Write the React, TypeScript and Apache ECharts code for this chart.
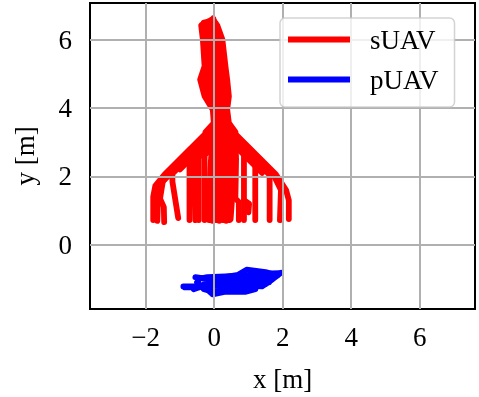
import React, { useEffect, useRef } from "react";
import * as echarts from "echarts";

// ---- axis setup ----
const xRange = [-3.626, 7.617];
const yRange = [-1.88, 7.07];
const xTicks = [-2, 0, 2, 4, 6];
const yTicks = [0, 2, 4, 6];

// ---- sUAV trajectories (x, y in m) ----
// vertical column (hover phase)
const sColumn1 = [[-0.25, 3.3], [-0.01, 3.56], [-0.04, 3.95], [-0.28, 4.34], [-0.41, 4.83], [-0.28, 5.22], [-0.33, 6.0], [-0.38, 6.42], [-0.3, 6.48]];
const sColumn2 = [[-0.1, 3.3], [0.06, 3.56], [0.03, 3.95], [-0.16, 4.34], [-0.28, 4.83], [-0.18, 5.22], [-0.24, 6.0], [-0.3, 6.5], [-0.2, 6.52]];
const sColumn3 = [[0.04, 3.3], [0.14, 3.56], [0.1, 3.95], [-0.04, 4.34], [-0.15, 4.83], [-0.08, 5.22], [-0.14, 6.0], [-0.18, 6.52], [-0.08, 6.58]];
const sColumn4 = [[0.19, 3.3], [0.21, 3.56], [0.17, 3.95], [0.08, 4.34], [-0.02, 4.83], [0.03, 5.22], [-0.05, 6.0], [-0.08, 6.55], [-0.03, 6.62]];
const sColumn5 = [[0.33, 3.3], [0.28, 3.56], [0.24, 3.95], [0.19, 4.34], [0.12, 4.83], [0.13, 5.22], [0.05, 6.0], [0.0, 6.55]];
const sColumn6 = [[0.48, 3.3], [0.36, 3.56], [0.31, 3.95], [0.31, 4.34], [0.25, 4.83], [0.23, 5.22], [0.14, 6.0], [0.05, 6.48]];
const sColumn7 = [[0.62, 3.3], [0.43, 3.56], [0.38, 3.95], [0.43, 4.34], [0.38, 4.83], [0.33, 5.22], [0.24, 6.0], [0.09, 6.42]];

// left fan
const sLeft1 = [[0.1, 3.6], [-1.45, 2.05], [-1.72, 1.72], [-1.78, 1.4], [-1.78, 0.72]];
const sLeft2 = [[0.1, 3.5], [-1.4, 2.0], [-1.6, 1.7], [-1.64, 1.35], [-1.66, 0.7]];
const sLeft3 = [[0.1, 3.45], [-1.5, 1.85], [-1.58, 1.35], [-1.47, 1.1], [-1.46, 0.66]];
const sLeft4 = [[0.1, 3.4], [-1.22, 2.08], [-1.22, 1.85], [-1.05, 0.78]];
const sLeft5 = [[0.1, 3.3], [-1.0, 2.2]];
const sLeft6 = [[0.1, 3.2], [-0.72, 2.38], [-0.72, 0.72]];
const sLeft7 = [[0.1, 3.15], [-0.6, 2.45], [-0.55, 0.72]];
const sLeft8 = [[0.1, 3.1], [-0.45, 2.55], [-0.45, 0.72]];
const sLeft9 = [[0.1, 3.0], [-0.28, 2.62], [-0.28, 0.72]];

// centre block
const sMid1 = [[-0.15, 0.72], [-0.14, 1.6], [-0.1, 2.4], [-0.05, 3.0], [0.0, 3.4]];
const sMid2 = [[-0.05, 0.7], [-0.04, 1.8], [0.0, 2.6], [0.05, 3.4]];
const sMid3 = [[0.05, 0.72], [0.07, 1.5], [0.06, 2.5], [0.1, 3.4]];
const sMid4 = [[0.15, 0.7], [0.16, 1.7], [0.18, 2.6], [0.2, 3.4]];
const sMid5 = [[0.25, 0.72], [0.26, 1.5], [0.27, 2.5], [0.28, 3.4]];
const sMid6 = [[0.35, 0.7], [0.36, 1.6], [0.37, 2.5], [0.36, 3.4]];
const sMid7 = [[0.45, 0.72], [0.44, 1.4], [0.47, 2.6], [0.45, 3.4]];
const sMid8 = [[0.52, 3.3], [0.55, 2.5], [0.52, 1.3], [0.48, 0.75]];
const sMid9 = [[0.62, 3.1], [0.64, 2.5], [0.62, 1.35], [0.72, 1.25], [0.72, 0.72]];

// right fan
const sRight1 = [[0.3, 3.56], [1.8, 2.06], [2.1, 1.6], [2.18, 1.3], [2.18, 0.75]];
const sRight2 = [[0.3, 3.46], [1.75, 2.01], [1.95, 1.6], [1.92, 0.72]];
const sRight3 = [[0.35, 3.31], [1.62, 2.04], [1.62, 0.72]];
const sRight4 = [[0.45, 3.3], [1.1, 2.65]];
const sRight5 = [[0.4, 3.2], [1.2, 2.4], [1.2, 0.72]];
const sRight6 = [[0.4, 3.16], [0.87, 2.69], [0.87, 0.72]];
const sRight7 = [[0.5, 3.0], [1.4, 2.1]];
const sRight8 = [[0.87, 1.3], [1.02, 1.2], [1.0, 0.95]];

// ---- pUAV trajectories ----
const pTrack1 = [[-0.9, -1.22], [-0.4, -1.22], [0.2, -1.2], [0.8, -1.18], [1.3, -1.1], [1.6, -1.1]];
const pTrack2 = [[-0.55, -0.95], [-0.2, -1.0], [0.3, -0.97], [0.8, -0.92], [1.2, -0.85], [1.9, -0.83]];
const pTrack3 = [[-0.5, -1.1], [-0.3, -1.3], [0.0, -1.38], [0.5, -1.32], [1.0, -1.3], [1.5, -1.15]];
const pTrack4 = [[0.0, -1.0], [0.7, -0.88], [0.95, -0.73], [1.5, -0.8], [1.85, -0.9], [1.4, -1.0], [0.6, -1.05], [-0.1, -1.1]];
const pTrack5 = [[-0.6, -1.3], [-0.3, -1.2], [-0.1, -1.4], [0.4, -1.3], [0.9, -1.05], [1.2, -0.95], [1.7, -0.95]];
const pTrack6 = [[-0.85, -1.25], [-0.5, -1.25], [-0.45, -1.0], [-0.2, -0.95], [0.5, -0.92]];
const pTrack7 = [[-0.3, -1.15], [0.3, -1.1], [0.9, -1.2], [1.4, -1.22], [1.65, -1.05], [1.95, -0.82]];
const pTrack8 = [[-0.05, -1.45], [0.3, -1.38], [0.9, -1.38], [1.2, -1.3]];

const sTracks = [
  sColumn1, sColumn2, sColumn3, sColumn4, sColumn5, sColumn6, sColumn7,
  sLeft1, sLeft2, sLeft3, sLeft4, sLeft5, sLeft6, sLeft7, sLeft8, sLeft9,
  sMid1, sMid2, sMid3, sMid4, sMid5, sMid6, sMid7, sMid8, sMid9,
  sRight1, sRight2, sRight3, sRight4, sRight5, sRight6, sRight7, sRight8,
];
const pTracks = [pTrack1, pTrack2, pTrack3, pTrack4, pTrack5, pTrack6, pTrack7, pTrack8];

const FONT = "'Liberation Serif', 'Times New Roman', serif";
const fmt = (v: number) => (v < 0 ? "\u2212" + Math.abs(v) : String(v));

export default function App() {
  const ref = useRef<HTMLDivElement>(null);
  useEffect(() => {
    if (!ref.current) return;
    const chart = echarts.init(ref.current, undefined, { renderer: "svg" });
    const mk = (name: string, color: string) => (d: number[][]) => ({
      type: "line",
      name,
      data: d,
      showSymbol: false,
      symbol: "none",
      lineStyle: { color, width: 5.8, cap: "round", join: "round" },
      itemStyle: { color },
      z: 3,
      silent: true,
    });
    const series: any[] = [
      {
        type: "line",
        name: "grid",
        data: [],
        z: 1,
        silent: true,
        markLine: {
          silent: true,
          symbol: ["none", "none"],
          label: { show: false },
          lineStyle: { color: "#b0b0b0", width: 2, type: "solid" },
          data: [...xTicks.map((v) => ({ xAxis: v })), ...yTicks.map((v) => ({ yAxis: v }))],
        },
      },
      ...sTracks.map(mk("sUAV", "#ff0000")),
      ...pTracks.map(mk("pUAV", "#0000ff")),
    ];
    const axisCommon = {
      type: "value",
      splitLine: { show: false },
      axisLine: { show: true, lineStyle: { color: "#000", width: 2 } },
      axisTick: { show: true, length: 9, lineStyle: { color: "#000", width: 2 } },
      nameLocation: "middle",
      nameTextStyle: { fontFamily: FONT, fontSize: 27, color: "#000" },
    };
    chart.setOption({
      animation: false,
      grid: { left: 90, top: 3, width: 385, height: 306, show: true, borderColor: "#000", borderWidth: 2, backgroundColor: "transparent" },
      xAxis: {
        ...axisCommon,
        min: xRange[0],
        max: xRange[1],
        name: "x [m]",
        nameGap: 56,
        axisTick: { ...axisCommon.axisTick, customValues: xTicks },
        axisLabel: { customValues: xTicks, formatter: fmt, fontFamily: FONT, fontSize: 27, color: "#000", margin: 14 },
      },
      yAxis: {
        ...axisCommon,
        min: yRange[0],
        max: yRange[1],
        name: "y [m]",
        nameGap: 52,
        nameRotate: 90,
        axisTick: { ...axisCommon.axisTick, customValues: yTicks },
        axisLabel: { customValues: yTicks, formatter: fmt, fontFamily: FONT, fontSize: 27, color: "#000", margin: 18 },
      },
      legend: {
        data: ["sUAV", "pUAV"],
        orient: "vertical",
        left: 280,
        top: 18,
        icon: "rect",
        itemWidth: 62,
        itemHeight: 6,
        itemGap: 13,
        padding: [8, 16, 14, 8],
        backgroundColor: "rgba(255,255,255,0.8)",
        borderColor: "rgba(200,200,200,0.8)",
        borderWidth: 1.5,
        borderRadius: 5,
        selectedMode: false,
        z: 10,
        textStyle: { fontFamily: FONT, fontSize: 27, color: "#000", lineHeight: 26, padding: [0, 0, 0, 15] },
      },
      series,
    });
    return () => chart.dispose();
  }, []);
  return <div ref={ref} style={{ position: "fixed", left: 0, top: 0, width: 479, height: 397 }} />;
}
